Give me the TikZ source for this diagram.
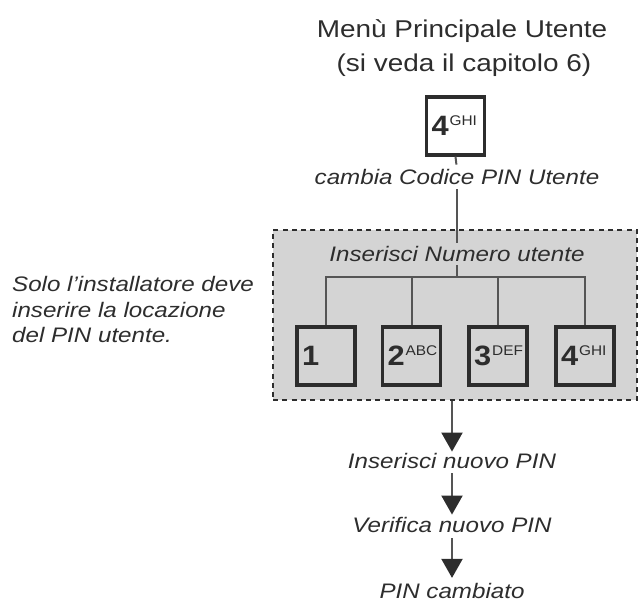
\documentclass[tikz,border=0pt]{standalone}
\usepackage{fontspec}
\setmainfont{Liberation Sans}[FakeStretch=1.15]
\newfontfamily\keyfont{Liberation Sans}[FakeStretch=1.1]
\usetikzlibrary{arrows.meta}
\definecolor{ink}{RGB}{45,45,45}
\definecolor{linegray}{RGB}{85,85,85}
\definecolor{regfill}{RGB}{212,212,212}
\newcommand\keylabel[2]{\makebox[48pt][l]{\keyfont\fontsize{28}{28}\selectfont\bfseries #1\kern1pt\raisebox{10pt}{\fontsize{14}{14}\selectfont\mdseries #2}}}
\tikzset{
  region/.style={fill=regfill, draw=ink, line width=2.8pt, dash pattern=on 5pt off 4.3pt, minimum width=364pt, minimum height=170pt, inner sep=0pt},
  keybox/.style={draw=ink, line width=3.2pt, minimum width=58pt, minimum height=58pt, inner sep=0pt, text=ink},
  lbl/.style={font=\itshape\fontsize{21}{25}\selectfont, text=ink, inner sep=0pt, anchor=base},
  sidelbl/.style={font=\itshape\fontsize{21}{25}\selectfont, text=ink, inner sep=0pt, anchor=base west},
  titlelbl/.style={font=\fontsize{24.3}{28}\selectfont, text=ink, inner sep=0pt, anchor=base},
  conn/.style={draw=linegray, line width=2pt},
  arr/.style={draw=linegray, line width=2pt, -{Triangle[width=21pt,length=19pt,color=ink,fill=ink]}}
}
\begin{document}
\begin{tikzpicture}[x=1pt,y=-1pt]
\useasboundingbox (0,0) rectangle (638,604);
% title
\node[titlelbl] (t1) at (462,38) {Menù Principale Utente};
\node[titlelbl] (t2) at (464,72) {(si veda il capitolo 6)};
% top key
\node[keybox, fill=white] (top) at (455.5,126) {\keylabel{4}{GHI}};
\node[lbl] (cambia) at (457,185) {cambia Codice PIN Utente};
% shaded region
\node[region] (region) at (455,315) {};
\node[lbl] (insnum) at (457,262) {Inserisci Numero utente};
\coordinate (bar) at (457,277);
% keys
\node[keybox] (k1) at (326,356) {\keylabel{1}{}};
\node[keybox] (k2) at (411.5,356) {\keylabel{2}{ABC}};
\node[keybox] (k3) at (498,356) {\keylabel{3}{DEF}};
\node[keybox] (k4) at (585,356) {\keylabel{4}{GHI}};
% side note
\node[sidelbl] (l1) at (12,292) {Solo l{\char"27}installatore deve};
\node[sidelbl] (l2) at (12,317.5) {inserire la locazione};
\node[sidelbl] (l3) at (12,343) {del PIN utente.};
% steps
\node[lbl] (n1) at (452,468) {Inserisci nuovo PIN};
\node[lbl] (n2) at (452,532) {Verifica nuovo PIN};
\node[lbl] (n3) at (452,598) {PIN cambiato};
% connectors
\draw[conn, shorten >=5pt] (top.south) -- (cambia.north);
\draw[conn, shorten <=4pt, shorten >=4pt] (cambia.south) -- (insnum.north);
\draw[conn, shorten <=3pt] (insnum.south) -- (bar);
\draw[conn] (k1.north) |- (bar) -| (k4.north);
\draw[conn] (k2.north) -- (k2.north |- bar);
\draw[conn] (k3.north) -- (k3.north |- bar);
% arrows
\draw[arr, shorten >=1pt] (region.south -| n1.north) -- (n1.north);
\draw[arr, shorten <=5pt, shorten >=2pt] (n1.south) -- (n2.north);
\draw[arr, shorten <=6pt, shorten >=4.7pt] (n2.south) -- (n3.north);
\end{tikzpicture}
\end{document}
